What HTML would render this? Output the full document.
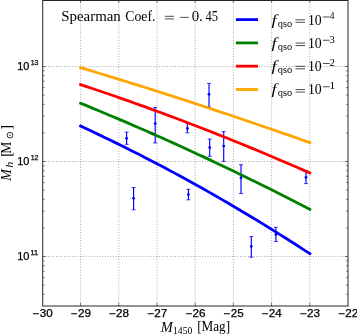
<!DOCTYPE html>
<html><head><meta charset="utf-8"><style>html,body{margin:0;padding:0;background:#fff;}svg{display:block;will-change:transform;}</style></head>
<body><svg width="357" height="335" viewBox="0 0 357 335">
<rect width="357" height="335" fill="#fff"/>
<path d="M80.60,0.5V306.0 M118.80,0.5V306.0 M157.00,0.5V306.0 M195.20,0.5V306.0 M233.40,0.5V306.0 M271.60,0.5V306.0 M309.80,0.5V306.0" stroke="#000" stroke-opacity="0.38" stroke-width="0.9" stroke-dasharray="1 1.705" fill="none" stroke-dashoffset="1.165"/>
<path d="M42.7,256.50H348.0 M42.7,161.50H348.0 M42.7,66.50H348.0" stroke="#000" stroke-opacity="0.38" stroke-width="0.9" stroke-dasharray="1 1.705" fill="none" stroke-dashoffset="0.210"/>
<path d="M126.6,132.1V144.3 M133.6,187.5V209.8 M155.2,107.5V142.9 M187.4,123.6V132.8 M188.4,189.3V199.8 M209.0,83.4V107.0 M209.7,139.0V156.3 M223.7,131.6V161.4 M241.0,164.7V193.5 M251.3,236.6V257.2 M275.9,227.3V241.5 M306.0,170.7V183.6" stroke="#0000ff" stroke-width="1.15" fill="none"/>
<path d="M124.6,132.1H128.6M124.6,144.3H128.6 M131.6,187.5H135.6M131.6,209.8H135.6 M153.2,107.5H157.2M153.2,142.9H157.2 M185.4,123.6H189.4M185.4,132.8H189.4 M186.4,189.3H190.4M186.4,199.8H190.4 M207.0,83.4H211.0M207.0,107.0H211.0 M207.7,139.0H211.7M207.7,156.3H211.7 M221.7,131.6H225.7M221.7,161.4H225.7 M239.0,164.7H243.0M239.0,193.5H243.0 M249.3,236.6H253.3M249.3,257.2H253.3 M273.9,227.3H277.9M273.9,241.5H277.9 M304.0,170.7H308.0M304.0,183.6H308.0" stroke="#0000ff" stroke-width="0.85" stroke-opacity="0.9" fill="none"/>
<circle cx="126.6" cy="138.3" r="1.4" fill="#0000ff"/><circle cx="133.6" cy="198.3" r="1.4" fill="#0000ff"/><circle cx="155.2" cy="123.6" r="1.4" fill="#0000ff"/><circle cx="187.4" cy="128.4" r="1.4" fill="#0000ff"/><circle cx="188.4" cy="194.6" r="1.4" fill="#0000ff"/><circle cx="209.0" cy="94.3" r="1.4" fill="#0000ff"/><circle cx="209.7" cy="147.6" r="1.4" fill="#0000ff"/><circle cx="223.7" cy="146.1" r="1.4" fill="#0000ff"/><circle cx="241.0" cy="177.8" r="1.4" fill="#0000ff"/><circle cx="251.3" cy="246.5" r="1.4" fill="#0000ff"/><circle cx="275.9" cy="234.4" r="1.4" fill="#0000ff"/><circle cx="306.0" cy="177.3" r="1.4" fill="#0000ff"/>
<polyline points="80.60,67.65 86.48,69.42 92.35,71.19 98.23,72.97 104.11,74.76 109.98,76.56 115.86,78.37 121.74,80.18 127.62,82.00 133.49,83.83 139.37,85.67 145.25,87.52 151.12,89.38 157.00,91.24 162.88,93.12 168.75,95.00 174.63,96.89 180.51,98.79 186.38,100.69 192.26,102.61 198.14,104.53 204.02,106.46 209.89,108.40 215.77,110.35 221.65,112.30 227.52,114.27 233.40,116.24 239.28,118.22 245.15,120.21 251.03,122.21 256.91,124.22 262.78,126.23 268.66,128.26 274.54,130.29 280.42,132.33 286.29,134.38 292.17,136.43 298.05,138.50 303.92,140.57 309.80,142.65" stroke="#ffa500" stroke-width="2.8" stroke-linecap="square" fill="none"/>
<polyline points="80.60,84.60 86.48,86.55 92.35,88.51 98.23,90.49 104.11,92.49 109.98,94.50 115.86,96.54 121.74,98.58 127.62,100.65 133.49,102.73 139.37,104.83 145.25,106.94 151.12,109.07 157.00,111.22 162.88,113.39 168.75,115.57 174.63,117.77 180.51,119.98 186.38,122.22 192.26,124.46 198.14,126.73 204.02,129.01 209.89,131.31 215.77,133.63 221.65,135.96 227.52,138.31 233.40,140.68 239.28,143.06 245.15,145.46 251.03,147.88 256.91,150.31 262.78,152.76 268.66,155.23 274.54,157.72 280.42,160.22 286.29,162.73 292.17,165.27 298.05,167.82 303.92,170.39 309.80,172.97" stroke="#ff0000" stroke-width="2.8" stroke-linecap="square" fill="none"/>
<polyline points="80.60,103.28 86.48,105.67 92.35,108.08 98.23,110.51 104.11,112.96 109.98,115.42 115.86,117.90 121.74,120.39 127.62,122.91 133.49,125.44 139.37,127.98 145.25,130.55 151.12,133.13 157.00,135.73 162.88,138.34 168.75,140.98 174.63,143.63 180.51,146.29 186.38,148.98 192.26,151.68 198.14,154.40 204.02,157.14 209.89,159.89 215.77,162.66 221.65,165.45 227.52,168.25 233.40,171.07 239.28,173.91 245.15,176.77 251.03,179.64 256.91,182.53 262.78,185.44 268.66,188.36 274.54,191.30 280.42,194.26 286.29,197.24 292.17,200.23 298.05,203.24 303.92,206.27 309.80,209.31" stroke="#008000" stroke-width="2.8" stroke-linecap="square" fill="none"/>
<polyline points="80.60,126.13 86.48,128.85 92.35,131.60 98.23,134.38 104.11,137.18 109.98,140.02 115.86,142.88 121.74,145.77 127.62,148.69 133.49,151.64 139.37,154.62 145.25,157.63 151.12,160.67 157.00,163.74 162.88,166.83 168.75,169.96 174.63,173.11 180.51,176.29 186.38,179.50 192.26,182.74 198.14,186.01 204.02,189.31 209.89,192.64 215.77,196.00 221.65,199.38 227.52,202.80 233.40,206.24 239.28,209.72 245.15,213.22 251.03,216.75 256.91,220.31 262.78,223.90 268.66,227.52 274.54,231.16 280.42,234.84 286.29,238.54 292.17,242.28 298.05,246.04 303.92,249.83 309.80,253.65" stroke="#0000ff" stroke-width="2.8" stroke-linecap="square" fill="none"/>
<circle cx="152.5" cy="133.8" r="1.3" fill="#002200" fill-opacity="0.55"/>
<path d="M80.60,306.0v-3.2M80.60,0.5v2.4 M118.80,306.0v-3.2M118.80,0.5v2.4 M157.00,306.0v-3.2M157.00,0.5v2.4 M195.20,306.0v-3.2M195.20,0.5v2.4 M233.40,306.0v-3.2M233.40,0.5v2.4 M271.60,306.0v-3.2M271.60,0.5v2.4 M309.80,306.0v-3.2M309.80,0.5v2.4 M42.7,256.50h3.2M348.0,256.50h-3.2 M42.7,161.50h3.2M348.0,161.50h-3.2 M42.7,66.50h3.2M348.0,66.50h-3.2" stroke="#000" stroke-width="0.9" stroke-opacity="0.55" fill="none"/>
<path d="M42.7,294.30h1.8M348.0,294.30h-1.8 M42.7,285.10h1.8M348.0,285.10h-1.8 M42.7,277.58h1.8M348.0,277.58h-1.8 M42.7,271.22h1.8M348.0,271.22h-1.8 M42.7,265.71h1.8M348.0,265.71h-1.8 M42.7,260.85h1.8M348.0,260.85h-1.8 M42.7,227.90h1.8M348.0,227.90h-1.8 M42.7,211.17h1.8M348.0,211.17h-1.8 M42.7,199.30h1.8M348.0,199.30h-1.8 M42.7,190.10h1.8M348.0,190.10h-1.8 M42.7,182.58h1.8M348.0,182.58h-1.8 M42.7,176.22h1.8M348.0,176.22h-1.8 M42.7,170.71h1.8M348.0,170.71h-1.8 M42.7,165.85h1.8M348.0,165.85h-1.8 M42.7,132.90h1.8M348.0,132.90h-1.8 M42.7,116.17h1.8M348.0,116.17h-1.8 M42.7,104.30h1.8M348.0,104.30h-1.8 M42.7,95.10h1.8M348.0,95.10h-1.8 M42.7,87.58h1.8M348.0,87.58h-1.8 M42.7,81.22h1.8M348.0,81.22h-1.8 M42.7,75.71h1.8M348.0,75.71h-1.8 M42.7,70.85h1.8M348.0,70.85h-1.8" stroke="#000" stroke-width="0.8" stroke-opacity="0.7" fill="none"/>
<rect x="42.7" y="0.5" width="305.3" height="305.5" stroke="#000" stroke-width="1" fill="none" stroke-opacity="0.85"/>
<text x="32.88" y="316.60" font-family="Liberation Sans, sans-serif" font-size="10.1" textLength="19.73" lengthAdjust="spacingAndGlyphs" stroke="#000" stroke-width="0.25">−30</text>
<text x="71.08" y="316.60" font-family="Liberation Sans, sans-serif" font-size="10.1" textLength="19.83" lengthAdjust="spacingAndGlyphs" stroke="#000" stroke-width="0.25">−29</text>
<text x="109.28" y="316.60" font-family="Liberation Sans, sans-serif" font-size="10.1" textLength="19.78" lengthAdjust="spacingAndGlyphs" stroke="#000" stroke-width="0.25">−28</text>
<text x="147.48" y="316.60" font-family="Liberation Sans, sans-serif" font-size="10.1" textLength="19.86" lengthAdjust="spacingAndGlyphs" stroke="#000" stroke-width="0.25">−27</text>
<text x="185.68" y="316.60" font-family="Liberation Sans, sans-serif" font-size="10.1" textLength="19.79" lengthAdjust="spacingAndGlyphs" stroke="#000" stroke-width="0.25">−26</text>
<text x="223.88" y="316.60" font-family="Liberation Sans, sans-serif" font-size="10.1" textLength="19.76" lengthAdjust="spacingAndGlyphs" stroke="#000" stroke-width="0.25">−25</text>
<text x="262.08" y="316.60" font-family="Liberation Sans, sans-serif" font-size="10.1" textLength="19.60" lengthAdjust="spacingAndGlyphs" stroke="#000" stroke-width="0.25">−24</text>
<text x="300.28" y="316.60" font-family="Liberation Sans, sans-serif" font-size="10.1" textLength="19.79" lengthAdjust="spacingAndGlyphs" stroke="#000" stroke-width="0.25">−23</text>
<text x="338.48" y="316.60" font-family="Liberation Sans, sans-serif" font-size="10.1" textLength="19.86" lengthAdjust="spacingAndGlyphs" stroke="#000" stroke-width="0.25">−22</text>
<text x="17.27" y="259.90" font-family="Liberation Sans, sans-serif" font-size="10.6" textLength="12.16" lengthAdjust="spacingAndGlyphs" stroke="#000" stroke-width="0.25">10</text>
<text x="30.44" y="255.30" font-family="Liberation Sans, sans-serif" font-size="7.2" textLength="7.62" lengthAdjust="spacingAndGlyphs" stroke="#000" stroke-width="0.25">11</text>
<text x="17.27" y="164.90" font-family="Liberation Sans, sans-serif" font-size="10.6" textLength="12.16" lengthAdjust="spacingAndGlyphs" stroke="#000" stroke-width="0.25">10</text>
<text x="30.66" y="160.30" font-family="Liberation Sans, sans-serif" font-size="7.2" textLength="7.90" lengthAdjust="spacingAndGlyphs" stroke="#000" stroke-width="0.25">12</text>
<text x="17.27" y="69.90" font-family="Liberation Sans, sans-serif" font-size="10.6" textLength="12.16" lengthAdjust="spacingAndGlyphs" stroke="#000" stroke-width="0.25">10</text>
<text x="30.66" y="65.30" font-family="Liberation Sans, sans-serif" font-size="7.2" textLength="7.85" lengthAdjust="spacingAndGlyphs" stroke="#000" stroke-width="0.25">13</text>
<text x="160.67" y="331.70" font-family="Liberation Serif, serif" font-style="italic" font-size="14.5" textLength="12.06" lengthAdjust="spacingAndGlyphs" >M</text>
<text x="173.05" y="334.20" font-family="Liberation Serif, serif" font-size="9.6" textLength="19.21" lengthAdjust="spacingAndGlyphs" >1450</text>
<text x="197.23" y="331.40" font-family="Liberation Serif, serif" font-size="14" textLength="32.85" lengthAdjust="spacingAndGlyphs" >[Mag]</text>
<g transform="translate(11.1,180.8) rotate(-90)"><text x="0.17" y="0.00" font-family="Liberation Serif, serif" font-style="italic" font-size="14.5" textLength="11.69" lengthAdjust="spacingAndGlyphs" >M</text><text x="13.16" y="1.60" font-family="Liberation Serif, serif" font-style="italic" font-size="9.7" textLength="6.16" lengthAdjust="spacingAndGlyphs" >h</text><text x="23.94" y="0.00" font-family="Liberation Serif, serif" font-size="14.5" textLength="4.78" lengthAdjust="spacingAndGlyphs" >[</text><text x="27.01" y="0.00" font-family="Liberation Serif, serif" font-size="13.6" textLength="12.09" lengthAdjust="spacingAndGlyphs" >M</text><circle cx="45.6" cy="-1.1" r="2.85" fill="none" stroke="#000" stroke-width="0.8"/><circle cx="45.6" cy="-1.1" r="0.7" fill="#000"/><text x="51.08" y="0.00" font-family="Liberation Serif, serif" font-size="14.5" textLength="4.78" lengthAdjust="spacingAndGlyphs" >]</text></g>
<text x="61.20" y="21.30" font-family="Liberation Serif, serif" font-size="14.4" textLength="59.62" lengthAdjust="spacingAndGlyphs" >Spearman</text>
<text x="125.34" y="21.30" font-family="Liberation Serif, serif" font-size="14.4" textLength="30.06" lengthAdjust="spacingAndGlyphs" >Coef.</text>
<path d="M164.9,16.3H173.9M164.9,18.900000000000002H173.9M180.2,17.400000000000002H188.7" stroke="#222" stroke-width="0.8"/>
<text x="191.74" y="21.30" font-family="Liberation Serif, serif" font-size="14.4" textLength="7.43" lengthAdjust="spacingAndGlyphs" >0</text>
<text x="199.09" y="21.30" font-family="Liberation Serif, serif" font-size="14.4" textLength="3.81" lengthAdjust="spacingAndGlyphs" >.</text>
<text x="205.45" y="21.30" font-family="Liberation Serif, serif" font-size="14.4" textLength="12.54" lengthAdjust="spacingAndGlyphs" >45</text>
<path d="M235.9,19.60H258" stroke="#0000ff" stroke-width="2.8"/>
<text x="271.50" y="24.60" font-family="Liberation Serif, serif" font-style="italic" font-size="14" textLength="5.09" lengthAdjust="spacingAndGlyphs" >f</text>
<text x="277.72" y="26.50" font-family="Liberation Serif, serif" font-size="9.3" textLength="14.47" lengthAdjust="spacingAndGlyphs" >qso</text>
<path d="M295.5,19.80H305M295.5,22.30H305M322.9,17.00H329.7" stroke="#222" stroke-width="0.8"/>
<text x="307.99" y="24.60" font-family="Liberation Serif, serif" font-size="14.5" textLength="13.73" lengthAdjust="spacingAndGlyphs" >10</text>
<text x="329.81" y="19.40" font-family="Liberation Serif, serif" font-size="9.4" textLength="4.74" lengthAdjust="spacingAndGlyphs" >4</text>
<path d="M235.9,42.90H258" stroke="#008000" stroke-width="2.8"/>
<text x="271.50" y="47.85" font-family="Liberation Serif, serif" font-style="italic" font-size="14" textLength="5.09" lengthAdjust="spacingAndGlyphs" >f</text>
<text x="277.72" y="49.75" font-family="Liberation Serif, serif" font-size="9.3" textLength="14.47" lengthAdjust="spacingAndGlyphs" >qso</text>
<path d="M295.5,43.05H305M295.5,45.55H305M322.9,40.25H329.7" stroke="#222" stroke-width="0.8"/>
<text x="307.99" y="47.85" font-family="Liberation Serif, serif" font-size="14.5" textLength="13.73" lengthAdjust="spacingAndGlyphs" >10</text>
<text x="329.49" y="42.65" font-family="Liberation Serif, serif" font-size="9.4" textLength="5.33" lengthAdjust="spacingAndGlyphs" >3</text>
<path d="M235.9,66.20H258" stroke="#ff0000" stroke-width="2.8"/>
<text x="271.50" y="71.10" font-family="Liberation Serif, serif" font-style="italic" font-size="14" textLength="5.09" lengthAdjust="spacingAndGlyphs" >f</text>
<text x="277.72" y="73.00" font-family="Liberation Serif, serif" font-size="9.3" textLength="14.47" lengthAdjust="spacingAndGlyphs" >qso</text>
<path d="M295.5,66.30H305M295.5,68.80H305M322.9,63.50H329.7" stroke="#222" stroke-width="0.8"/>
<text x="307.99" y="71.10" font-family="Liberation Serif, serif" font-size="14.5" textLength="13.73" lengthAdjust="spacingAndGlyphs" >10</text>
<text x="329.52" y="65.90" font-family="Liberation Serif, serif" font-size="9.4" textLength="5.49" lengthAdjust="spacingAndGlyphs" >2</text>
<path d="M235.9,89.50H258" stroke="#ffa500" stroke-width="2.8"/>
<text x="271.50" y="94.35" font-family="Liberation Serif, serif" font-style="italic" font-size="14" textLength="5.09" lengthAdjust="spacingAndGlyphs" >f</text>
<text x="277.72" y="96.25" font-family="Liberation Serif, serif" font-size="9.3" textLength="14.47" lengthAdjust="spacingAndGlyphs" >qso</text>
<path d="M295.5,89.55H305M295.5,92.05H305M322.9,86.75H329.7" stroke="#222" stroke-width="0.8"/>
<text x="307.99" y="94.35" font-family="Liberation Serif, serif" font-size="14.5" textLength="13.73" lengthAdjust="spacingAndGlyphs" >10</text>
<text x="329.40" y="89.15" font-family="Liberation Serif, serif" font-size="9.4" textLength="5.68" lengthAdjust="spacingAndGlyphs" >1</text>
</svg></body></html>
